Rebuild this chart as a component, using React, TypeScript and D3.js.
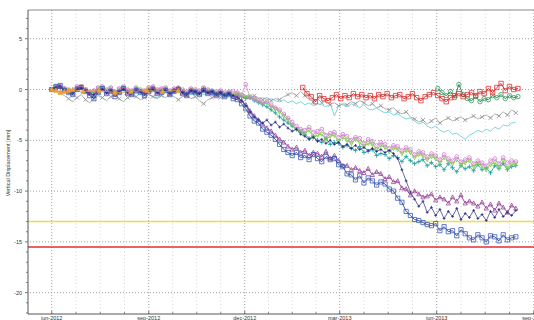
import React from "react";
import * as d3 from "d3";

const W = 534;
const H = 320;

// day offsets from 1 Jun 2012
const days = [0,4,8,12,16,20,24,28,32,36,40,44,48,52,56,60,64,68,72,76,80,84,88,92,96,100,104,108,112,116,120,124,128,132,136,140,144,148,152,156,160,164,168,172,176,180,184,188,192,196,200,204,208,212,216,220,224,228,232,236,240,244,248,252,256,260,264,268,272,276,280,284,288,292,296,300,304,308,312,316,320,324,328,332,336,340,344,348,352,356,360,364,368,372,376,380,384,388,392,396,400,404,408,412,416,420,424,428,432,436,440];

const blueSq = [0,0.3,0.4,-0.1,-0.3,-0.5,0.0,0.2,-0.2,-0.6,
  -0.9,-0.3,0.1,-0.4,-0.2,-0.7,-0.3,0.1,-0.4,-0.5,
  -0.1,-0.3,-0.6,-0.2,0.0,-0.4,-0.3,-0.1,-0.5,-0.2,
  0.0,-0.4,-0.6,-0.2,-0.3,-0.5,-0.1,-0.4,-0.3,-0.6,
  -0.4,-0.7,-0.5,-0.9,-1.0,-1.4,-1.9,-2.6,-3.1,-3.3,
  -3.9,-4.2,-4.5,-4.9,-5.4,-5.9,-6.2,-6.5,-6.2,-6.7,
  -6.5,-6.9,-6.4,-6.8,-7.1,-6.6,-6.9,-6.8,-7.4,-7.6,
  -8.3,-8.4,-8.9,-8.5,-9.2,-8.7,-9.0,-9.4,-9.1,-9.3,
  -9.8,-10.0,-10.7,-11.1,-12.0,-12.4,-12.8,-12.9,-13.1,-13.3,
  -13.4,-13.2,-13.9,-13.5,-14.0,-13.9,-14.4,-13.8,-14.2,-14.6,
  -14.8,-14.3,-14.6,-15.0,-14.4,-14.5,-14.9,-14.3,-14.8,-14.6,-14.5];

const purpleTri = [0,0.2,0.3,0.0,-0.2,-0.4,0.1,0.2,-0.1,-0.4,
  -0.6,-0.2,0.1,-0.3,-0.1,-0.5,-0.2,0.1,-0.3,-0.4,
  0.0,-0.2,-0.4,-0.1,0.1,-0.3,-0.2,0.0,-0.4,-0.1,
  0.1,-0.3,-0.5,-0.1,-0.2,-0.4,0.0,-0.3,-0.2,-0.5,
  -0.3,-0.6,-0.4,-0.7,-0.8,-1.1,-1.5,-2.1,-2.6,-3.0,
  -3.4,-3.8,-4.1,-4.5,-4.9,-5.2,-5.6,-5.9,-5.7,-6.2,
  -6.0,-6.5,-6.2,-6.3,-6.6,-6.1,-6.8,-6.5,-7.0,-7.5,
  -7.5,-7.9,-7.7,-8.0,-8.2,-7.8,-8.4,-8.1,-8.3,-8.8,
  -8.6,-9.1,-9.0,-9.7,-9.8,-10.4,-10.0,-10.3,-10.6,-10.5,
  -10.3,-10.9,-10.6,-10.8,-11.2,-10.6,-11.0,-10.4,-11.2,-11.0,
  -11.2,-11.5,-11.1,-11.7,-11.3,-11.9,-11.2,-11.6,-12.1,-11.4,-11.7];

const navyLine = [0,0.1,0.2,-0.1,-0.2,-0.3,0.0,0.1,-0.2,-0.4,
  -0.5,-0.2,0.0,-0.3,-0.1,-0.4,-0.2,0.0,-0.3,-0.3,
  -0.1,-0.2,-0.4,-0.1,0.0,-0.3,-0.2,-0.1,-0.3,-0.2,
  0.0,-0.3,-0.4,-0.1,-0.2,-0.4,-0.1,-0.3,-0.2,-0.4,
  -0.3,-0.5,-0.4,-0.6,-0.8,-1.1,-1.6,-2.2,-2.7,-3.0,
  -3.3,-3.0,-3.5,-3.2,-3.7,-3.4,-3.8,-4.1,-3.9,-4.4,
  -4.6,-4.9,-4.7,-5.1,-4.9,-5.3,-5.0,-5.4,-5.2,-5.6,
  -5.4,-5.8,-5.5,-5.9,-5.7,-6.0,-5.8,-6.1,-5.9,-6.2,
  -6.0,-6.3,-6.8,-7.9,-9.0,-10.1,-10.8,-11.5,-11.0,-12.1,
  -11.6,-12.4,-11.8,-12.7,-12.0,-12.5,-11.7,-12.8,-12.2,-12.6,
  -11.9,-12.7,-12.3,-12.9,-12.0,-12.6,-11.8,-12.5,-12.1,-12.4,-11.9];

const greenTri = [0,0.2,0.3,0.1,-0.1,-0.3,0.2,0.3,0.0,-0.3,
  -0.2,0.1,0.2,-0.1,0.1,-0.3,0.0,0.2,-0.1,-0.2,
  0.1,-0.1,-0.2,0.1,0.2,-0.1,0.0,0.1,-0.2,0.0,
  0.1,-0.1,-0.3,0.0,-0.1,-0.2,0.1,-0.1,-0.2,-0.3,
  -0.2,-0.4,-0.3,-0.5,-0.4,-0.6,-0.8,-0.7,-1.0,-1.2,
  -1.4,-1.3,-1.7,-1.9,-2.2,-2.6,-3.0,-3.5,-3.9,-4.1,
  -4.3,-4.0,-4.7,-4.5,-4.4,-4.9,-4.6,-4.5,-5.1,-4.7,
  -5.0,-5.3,-4.9,-5.2,-5.6,-5.3,-5.4,-5.9,-5.5,-5.7,
  -6.1,-5.8,-5.9,-6.3,-6.0,-6.2,-6.7,-6.4,-6.5,-6.9,
  -6.6,-6.8,-7.2,-6.7,-7.1,-7.3,-6.9,-7.4,-7.2,-7.0,
  -7.6,-7.3,-7.5,-7.9,-7.4,-7.2,-7.6,-7.0,-7.7,-7.4,-7.3];

const tealPlus = [0,0.1,0.2,0.0,-0.2,-0.3,0.1,0.2,-0.1,-0.3,
  -0.3,0.0,0.1,-0.2,0.0,-0.3,-0.1,0.1,-0.2,-0.3,
  0.0,-0.2,-0.3,0.0,0.1,-0.2,-0.1,0.0,-0.3,-0.1,
  0.0,-0.2,-0.4,-0.1,-0.2,-0.3,0.0,-0.2,-0.3,-0.4,
  -0.3,-0.5,-0.4,-0.6,-0.5,-0.7,-0.9,-0.8,-1.1,-1.3,
  -1.5,-1.7,-2.0,-2.3,-2.7,-3.0,-3.3,-3.6,-3.9,-4.2,
  -4.4,-4.8,-4.6,-5.0,-5.2,-4.8,-5.4,-5.2,-5.3,-5.7,
  -5.5,-5.8,-6.0,-5.6,-6.2,-6.1,-5.9,-6.5,-6.3,-6.4,
  -6.8,-6.5,-6.7,-7.1,-6.6,-7.0,-7.3,-7.1,-6.9,-7.5,
  -7.2,-7.6,-7.4,-7.9,-7.3,-7.7,-8.1,-7.5,-7.8,-7.6,
  -8.0,-7.4,-7.9,-7.7,-8.2,-7.5,-7.8,-7.3,-7.9,-7.6,-7.5];

const pinkCirc = [0,0.3,0.3,0.1,0.0,-0.2,0.3,0.3,0.0,-0.2,
  -0.1,0.2,0.3,0.0,0.2,-0.2,0.1,0.3,0.0,-0.1,
  0.2,0.0,-0.1,0.2,0.3,0.0,0.1,0.2,-0.1,0.1,
  0.2,0.0,-0.2,0.1,0.0,-0.1,0.2,0.0,-0.1,-0.2,
  -0.1,-0.3,-0.2,-0.2,-0.3,-0.5,0.5,-0.8,-0.9,-1.1,
  -1.3,-1.2,-1.5,-1.8,-2.0,-2.4,-2.8,-3.2,-3.6,-3.9,
  -4.0,-3.7,-4.2,-4.1,-3.9,-4.5,-4.3,-4.2,-4.7,-4.4,
  -4.6,-5.0,-4.7,-4.8,-5.3,-4.9,-5.1,-5.5,-5.2,-5.4,
  -5.8,-5.5,-5.6,-6.0,-5.7,-5.9,-6.4,-6.1,-6.2,-6.6,
  -6.3,-6.5,-6.9,-6.4,-6.8,-7.0,-6.6,-7.1,-6.9,-6.7,
  -7.3,-7.0,-7.2,-7.5,-7.0,-6.8,-7.3,-6.7,-7.2,-7.0,-7.1];

const grayX = [0,-0.1,-0.3,-0.6,-0.9,-1.2,-0.8,-0.5,-1.0,-1.3,
  -0.9,-0.6,-0.8,-1.1,-0.7,-0.5,-0.9,-1.2,-0.8,-0.6,
  -0.7,-1.0,-0.8,-0.5,-0.7,-0.9,-0.6,-0.8,-0.5,-0.7,
  -1.0,-0.7,-0.6,-0.9,-0.7,-1.1,-1.4,-1.0,-0.8,-0.6,
  -0.8,-0.6,-0.5,-0.7,-0.6,-0.8,-0.7,-0.9,-0.6,-0.8,
  -1.0,-0.8,-1.1,-0.9,-1.0,-0.7,-0.5,-0.3,-0.6,-0.2,
  -0.6,-1.0,-1.2,-0.9,-1.3,-1.1,-1.5,-1.3,-1.6,-1.4,
  -1.5,-1.2,-1.4,-1.1,-1.3,-1.6,-1.4,-1.8,-1.6,-1.9,
  -2.0,-1.8,-2.2,-2.4,-2.2,-2.7,-2.9,-3.2,-3.0,-3.4,
  -3.1,-2.8,-3.3,-3.0,-2.8,-3.1,-2.9,-2.7,-3.0,-2.8,
  -2.6,-2.9,-2.7,-2.5,-2.8,-2.4,-2.6,-2.2,-2.5,-2.0,-2.3];

const cyanLine = [0,-0.1,-0.2,-0.1,-0.3,-0.2,-0.1,-0.3,-0.4,-0.2,
  -0.3,-0.1,-0.2,-0.4,-0.3,-0.2,-0.5,-0.3,-0.2,-0.3,
  -0.4,-0.2,-0.3,-0.5,-0.7,-0.8,-0.5,-0.3,-0.4,-0.2,
  -0.3,-0.4,-0.3,-0.5,-0.4,-0.3,-0.5,-0.4,-0.6,-0.5,
  -0.4,-0.5,-0.6,-0.5,-0.6,-0.7,-0.6,-0.8,-0.7,-0.9,
  -0.8,-1.0,-0.9,-1.1,-1.2,-1.0,-1.3,-1.1,-1.4,-1.2,
  -1.5,-1.3,-1.6,-1.4,-1.5,-1.7,-1.4,-2.6,-1.6,-1.5,
  -1.7,-1.4,-1.6,-1.8,-1.5,-1.9,-2.0,-1.8,-2.1,-2.3,
  -2.2,-2.5,-2.4,-2.7,-2.9,-2.8,-3.1,-3.4,-3.2,-3.6,
  -3.8,-3.6,-4.0,-4.2,-4.0,-4.4,-4.3,-4.6,-4.9,-4.5,
  -4.3,-4.0,-4.2,-3.9,-4.1,-3.7,-3.9,-3.5,-3.6,-3.3,-3.2];

const redDays = [238,242,246,250,254,258,262,266,270,274,278,282,286,290,294,298,302,306,310,314,318,322,326,330,334,338,342,346,350,354,358,362,366,370,374,378,382,386,390,394,398,402,406,410,414,418,422,426,430,434,438,442];
const redSq = [0.2,-0.4,-0.7,-1.2,-0.6,-0.9,-1.1,-0.8,-0.5,-0.9,-0.6,-0.8,-0.4,-0.7,-0.5,-0.8,-0.6,-0.9,-0.5,-0.7,-0.4,-0.8,-0.6,-0.5,-0.9,-0.7,-0.4,-0.8,-1.1,-0.7,-0.5,-0.3,-0.6,-0.9,-1.2,-0.8,-0.6,-0.4,-0.7,-0.5,-0.3,-0.6,-0.2,-0.4,0.1,-0.3,0.2,0.6,-0.1,0.3,0.0,0.1];

const dkGreenDays = [366,370,374,378,382,386,390,394,398,402,406,410,414,418,422,426,430,434,438,442];
const dkGreenCirc = [0.1,-0.3,-0.6,-0.2,-0.8,0.5,-0.5,-0.9,-1.1,-0.7,-1.2,-0.9,-1.0,-0.6,-0.8,-0.5,-0.9,-0.6,-0.8,-0.7];

const orangeDays = [0,4,8,12,16,20,30,45,60,75,90,105,120];
const orangeTri = [0,-0.1,-0.3,-0.2,-0.1,0.0,-0.2,-0.1,-0.3,-0.2,-0.1,-0.2,-0.1];

const thresholdYellow = -13.0;
const thresholdRed = -15.5;

const yTicks = [5, 0, -5, -10, -15, -20];
const xTickDates = [new Date(2012, 5, 1), new Date(2012, 8, 1), new Date(2012, 11, 1), new Date(2013, 2, 1), new Date(2013, 5, 1), new Date(2013, 8, 1)];
const xTickLabels = ["jun-2012", "sep-2012", "dec-2012", "mar-2013", "jun-2013", "sep-2013"];
const yTitle = "Vertical Displacement [mm]";

const START = new Date(2012, 5, 1).getTime();
const dayDate = (d: number) => new Date(START + d * 86400000);

type Marker = "square" | "triUp" | "triDown" | "circle" | "plus" | "x" | "none";
interface Series { name: string; d: number[]; v: number[]; line: string; mk: string; marker: Marker; size: number; lw: number; fill?: string; every?: number; }

const seriesList: Series[] = [
  { name: "cyan", d: days, v: cyanLine, line: "#6fd0e0", mk: "#6fd0e0", marker: "none", size: 0, lw: 0.9 },
  { name: "gray", d: days, v: grayX, line: "#a0a0a0", mk: "#8f8f8f", marker: "x", size: 2.0, lw: 0.8, every: 2 },
  { name: "teal", d: days, v: tealPlus, line: "#169c9c", mk: "#169c9c", marker: "plus", size: 2.2, lw: 0.8 },
  { name: "green", d: days, v: greenTri, line: "#78c840", mk: "#78c840", marker: "triDown", size: 2.0, lw: 0.8 },
  { name: "pink", d: days, v: pinkCirc, line: "#d47ad4", mk: "#d47ad4", marker: "circle", size: 1.9, lw: 0.7 },
  { name: "purple", d: days, v: purpleTri, line: "#7d2a80", mk: "#9a44a0", marker: "triUp", size: 2.1, lw: 0.8 },
  { name: "navy", d: days, v: navyLine, line: "#2a2a80", mk: "#2a2a80", marker: "plus", size: 1.4, lw: 0.7 },
  { name: "blue", d: days, v: blueSq, line: "#1e2d8a", mk: "#3a5cb4", marker: "square", size: 2.1, lw: 0.8 },
  { name: "orange", d: orangeDays, v: orangeTri, line: "#f0a030", mk: "#f0a030", marker: "triUp", size: 2.2, lw: 0.8, fill: "#f0a030" },
  { name: "dkgreen", d: dkGreenDays, v: dkGreenCirc, line: "#1f7a45", mk: "#2e9a5a", marker: "circle", size: 2.2, lw: 0.9 },
  { name: "red", d: redDays, v: redSq, line: "#c02020", mk: "#dd3333", marker: "square", size: 2.2, lw: 0.9 },
];

function markerPath(m: Marker, s: number): string {
  switch (m) {
    case "square": return `M${-s},${-s}h${2 * s}v${2 * s}h${-2 * s}Z`;
    case "triUp": return `M0,${-s * 1.1}L${s},${s * 0.8}L${-s},${s * 0.8}Z`;
    case "triDown": return `M0,${s * 1.1}L${s},${-s * 0.8}L${-s},${-s * 0.8}Z`;
    case "plus": return `M${-s},0H${s}M0,${-s}V${s}`;
    case "x": return `M${-s},${-s}L${s},${s}M${-s},${s}L${s},${-s}`;
    default: return "";
  }
}

export default function App() {
  const left = 28, right = 548, top = 10, bottom = 314;
  const x = d3.scaleTime().domain([new Date(2012, 4, 9, 12), new Date(2013, 8, 14, 12)]).range([left, right]);
  const y = d3.scaleLinear().domain([-22.1, 7.83]).range([bottom, top]);
  const font = "'Liberation Sans', Arial, sans-serif";

  const majorX = xTickDates.map((d) => x(d));
  const minorX: number[] = [];
  for (let i = 0; i < majorX.length - 1; i++) {
    for (let k = 1; k < 4; k++) minorX.push(majorX[i] + ((majorX[i + 1] - majorX[i]) * k) / 4);
  }
  const minorY = d3.range(-22, 8, 1).filter((v) => v % 5 !== 0);

  return (
    <svg width={W} height={H} style={{ position: "absolute", left: 0, top: 0, background: "#fff" }} fontFamily={font}>
      <defs>
        <clipPath id="plot"><rect x={left} y={top} width={right - left} height={bottom - top} /></clipPath>
      </defs>
      {minorX.map((mx, i) => (
        <line key={"mx" + i} x1={mx} x2={mx} y1={top} y2={bottom} stroke="#d4d4d4" strokeWidth={1} strokeDasharray="1,2.5" />
      ))}
      {majorX.map((mx, i) => (
        <line key={"Mx" + i} x1={mx} x2={mx} y1={top} y2={bottom} stroke="#a0a0a0" strokeWidth={1} strokeDasharray="1,2" />
      ))}
      {yTicks.map((t) => (
        <line key={"gy" + t} x1={left + 2} x2={right} y1={y(t)} y2={y(t)} stroke="#a0a0a0" strokeWidth={1} strokeDasharray="1,2" />
      ))}
      <line x1={left} x2={right} y1={y(thresholdYellow)} y2={y(thresholdYellow)} stroke="#ece044" strokeWidth={1.6} />
      <line x1={left} x2={right} y1={y(thresholdRed)} y2={y(thresholdRed)} stroke="#e03030" strokeWidth={1.6} />
      <g clipPath="url(#plot)">
        {seriesList.map((s) => {
          const pts: [number, number][] = s.d.map((dd, i) => [x(dayDate(dd)), y(s.v[i])]);
          const path = d3.line()(pts) || "";
          const every = s.every || 1;
          return (
            <g key={s.name}>
              <path d={path} fill="none" stroke={s.line} strokeWidth={s.lw} />
              {s.marker !== "none" && pts.map((p, i) =>
                i % every !== 0 ? null : s.marker === "circle" ? (
                  <circle key={i} cx={p[0]} cy={p[1]} r={s.size} fill="none" stroke={s.mk} strokeWidth={0.8} />
                ) : (
                  <path key={i} d={markerPath(s.marker, s.size)} transform={`translate(${p[0]},${p[1]})`} fill={s.fill || "none"} stroke={s.mk} strokeWidth={0.8} />
                )
              )}
            </g>
          );
        })}
      </g>
      <line x1={left} x2={right} y1={top} y2={top} stroke="#8a8a8a" strokeWidth={1} />
      <line x1={left} x2={left} y1={top} y2={bottom} stroke="#555" strokeWidth={1} />
      <line x1={left} x2={right} y1={bottom} y2={bottom} stroke="#555" strokeWidth={1} />
      {minorY.map((t) => (
        <line key={"my" + t} x1={left - 2} x2={left} y1={y(t)} y2={y(t)} stroke="#666" strokeWidth={0.8} />
      ))}
      {yTicks.map((t) => (
        <g key={"yt" + t}>
          <line x1={left - 3} x2={left} y1={y(t)} y2={y(t)} stroke="#555" strokeWidth={0.8} />
          <text x={22} y={y(t) + 2} fontSize={5.5} textAnchor="end" fill="#333">{t}</text>
        </g>
      ))}
      {minorX.map((mx, i) => (
        <line key={"mtx" + i} x1={mx} x2={mx} y1={bottom - 2} y2={bottom} stroke="#666" strokeWidth={0.8} />
      ))}
      {majorX.map((mx, i) => (
        <g key={"xt" + i}>
          <line x1={mx} x2={mx} y1={bottom - 3} y2={bottom} stroke="#555" strokeWidth={0.8} />
          <text x={mx} y={320} fontSize={5.5} textAnchor="middle" fill="#333">{xTickLabels[i]}</text>
        </g>
      ))}
      <text transform={`translate(9.5,${163}) rotate(-90)`} fontSize={5.5} textAnchor="middle" fill="#333">{yTitle}</text>
    </svg>
  );
}
